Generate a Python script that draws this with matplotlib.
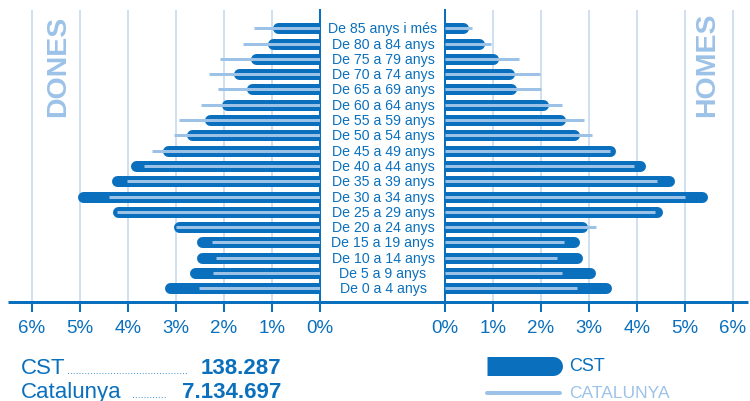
import matplotlib
matplotlib.use('Agg')
import matplotlib.pyplot as plt
from matplotlib.transforms import blended_transform_factory

plt.rcParams['font.family'] = ['Liberation Sans', 'DejaVu Sans']

#- Data (percent of population, from 0-4 up to 85+):

grups = ['De 0 a 4 anys', 'De 5 a 9 anys', 'De 10 a 14 anys', 'De 15 a 19 anys',
         'De 20 a 24 anys', 'De 25 a 29 anys', 'De 30 a 34 anys', 'De 35 a 39 anys',
         'De 40 a 44 anys', 'De 45 a 49 anys', 'De 50 a 54 anys', 'De 55 a 59 anys',
         'De 60 a 64 anys', 'De 65 a 69 anys', 'De 70 a 74 anys', 'De 75 a 79 anys',
         'De 80 a 84 anys', 'De 85 anys i més']
dones_cst = [3.23, 2.71, 2.57, 2.57, 3.05, 4.32, 5.06, 4.35, 3.95, 3.28,
             2.79, 2.41, 2.06, 1.53, 1.80, 1.45, 1.09, 0.98]
dones_cat = [2.52, 2.23, 2.16, 2.26, 3.00, 4.22, 4.39, 4.03, 3.66, 3.50,
             3.05, 2.94, 2.48, 2.12, 2.32, 2.09, 1.60, 1.38]
homes_cst = [3.46, 3.13, 2.86, 2.80, 2.97, 4.53, 5.47, 4.78, 4.17, 3.55,
             2.80, 2.52, 2.16, 1.49, 1.44, 1.12, 0.83, 0.49]
homes_cat = [2.75, 2.43, 2.34, 2.48, 3.15, 4.38, 5.00, 4.42, 3.94, 3.44,
             3.06, 2.90, 2.43, 1.99, 1.97, 1.55, 0.95, 0.56]
ticks = [0, 1, 2, 3, 4, 5, 6]
tick_labels = ['0%', '1%', '2%', '3%', '4%', '5%', '6%']
total_cst = '138.287'
total_cat = '7.134.697'

#- Style:

W, H = 750, 402
FOSC = '#0a70bd'
CLAR = '#9cc2e8'
GRID = '#c9ddf1'
PX = 0.72            # points per pixel at dpi 100
BAR_LW = 11 * PX
CAT_LW = 3 * PX
CAP = 5.5 / 48.0     # round cap radius in percent units

fig = plt.figure(figsize=(W / 100, H / 100), dpi=100)

def fx(x):
    return x / W

def fy(y):
    return 1 - y / H

bottom, top = fy(303), fy(11)
axL = fig.add_axes([fx(8), bottom, fx(320) - fx(8), top - bottom])
axR = fig.add_axes([fx(445), bottom, fx(748) - fx(445), top - bottom])

y = list(range(len(grups)))

for ax, cst, cat, lim in [(axL, dones_cst, dones_cat, (6.5, 0)),
                          (axR, homes_cst, homes_cat, (0, 6.3125))]:
    ax.set_xlim(lim)
    ax.set_ylim(-0.9, 18.2)
    for i in y:
        ax.plot([0, cst[i] - CAP], [i, i], color=FOSC, lw=BAR_LW,
                solid_capstyle='round', zorder=3)
        ax.plot([0, cat[i]], [i, i], color=CLAR, lw=CAT_LW,
                solid_capstyle='butt', zorder=4)
    ax.set_xticks(ticks)
    ax.set_xticklabels(tick_labels)
    ax.set_yticks([])
    ax.grid(axis='x', color=GRID, lw=1.3, zorder=0)
    ax.tick_params(axis='x', direction='out', length=10 * PX, width=2 * PX,
                   color=FOSC, labelcolor=FOSC, labelsize=13.5, pad=5)
    for s in ax.spines.values():
        s.set_visible(False)

axL.spines['right'].set_visible(True)
axL.spines['right'].set_color(FOSC)
axL.spines['right'].set_linewidth(2 * PX)
axR.spines['left'].set_visible(True)
axR.spines['left'].set_color(FOSC)
axR.spines['left'].set_linewidth(2 * PX)

#- Age group labels in the middle:

tr = blended_transform_factory(fig.transFigure, axL.transData)
for i in y:
    fig.text(fx(383), i, grups[i], transform=tr, ha='center', va='center',
             fontsize=10.2, color=FOSC)

#- Overlay for axis line, titles, totals and legend:

ov = fig.add_axes([0, 0, 1, 1])
ov.set_xlim(0, W)
ov.set_ylim(H, 0)
ov.axis('off')
ov.patch.set_alpha(0)

ov.plot([8, 748], [303.3, 303.3], color=FOSC, lw=3 * PX, solid_capstyle='butt')

ov.text(58.5, 66, 'DONES', rotation=90, ha='center', va='center',
        fontsize=20.5, fontweight='bold', color=CLAR)
ov.text(707.5, 65, 'HOMES', rotation=90, ha='center', va='center',
        fontsize=20.5, fontweight='bold', color=CLAR)

ov.text(21, 374, 'CST', fontsize=16, color=FOSC, va='baseline')
ov.text(67, 374, '.' * 42, fontsize=7.5, color=FOSC, va='baseline')
ov.text(281, 374, total_cst, fontsize=16, fontweight='bold', color=FOSC,
        ha='right', va='baseline')
ov.text(21, 398, 'Catalunya', fontsize=16, color=FOSC, va='baseline')
ov.text(132, 398, '.' * 12, fontsize=7.5, color=FOSC, va='baseline')
ov.text(281, 398, total_cat, fontsize=16, fontweight='bold', color=FOSC,
        ha='right', va='baseline')

ov.plot([487, 540], [366.5, 366.5], color=FOSC, lw=19 * PX,
        solid_capstyle='butt')
ov.plot([520, 552.5], [366.5, 366.5], color=FOSC, lw=19 * PX,
        solid_capstyle='round')
ov.text(569, 367, 'CST', fontsize=13, color=FOSC, va='center')
ov.plot([487, 560], [394, 394], color=CLAR, lw=4 * PX, solid_capstyle='round')
ov.text(569, 394, 'CATALUNYA', fontsize=12.5, color=CLAR, va='center')

plt.savefig('out.png', dpi=100)
